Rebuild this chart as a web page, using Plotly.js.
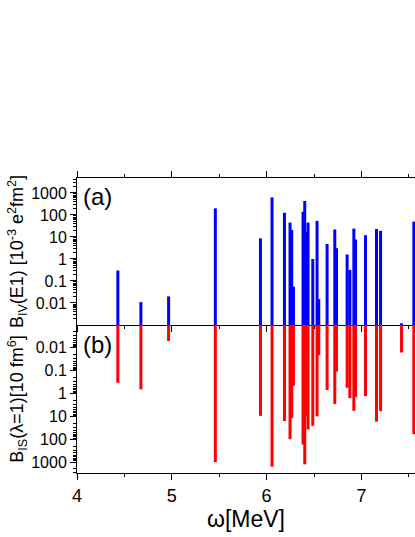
<!DOCTYPE html>
<html>
<head>
<meta charset="utf-8">
<script src="https://cdn.plot.ly/plotly-3.0.1.min.js"></script>
<style>
  html, body { margin: 0; padding: 0; background: #fff; }
  #plot { width: 415px; height: 537px; }
</style>
</head>
<body>
<div id="plot"></div>
<script>
// excitation energies (MeV) of the dipole states
const energies = [4.431, 4.674, 4.966, 5.459, 5.935, 6.057, 6.188, 6.247, 6.265, 6.283,
    6.384, 6.402, 6.420, 6.437, 6.487, 6.532, 6.550, 6.638, 6.719, 6.737,
    6.849, 6.878, 6.920, 6.938, 7.043, 7.159, 7.202, 7.423, 7.553];
// isovector E1 strength, 10^-3 e^2 fm^2
const bIV = [0.3, 0.011, 0.02, 200, 8.7, 630, 126, 45, 21, 0.055,
    140, 430, 17, 45, 1, 54, 0.015, 4.8, 22, 3.1,
    1.6, 0.32, 24, 7.7, 12, 23, 19, 0.0012, 50];
// isoscalar lambda=1 strength, 10 fm^6
const bIS = [0.34, 0.66, 0.005, 1000, 9.5, 1600, 16, 100, 12, 0.46,
    170, 1260, 10, 38, 26, 10, 0.021, 0.7, 2.9, 0.11,
    0.56, 1.6, 5.7, 1.4, 1.3, 17, 5.9, 0.016, 60];

const logTicks = [0.01, 0.1, 1, 10, 100, 1000];
const logTickText = ['0.01', '0.1', '1', '10', '100', '1000'];
const xTicks = [4, 5, 6, 7];
const base = 0.001; // bottom of the log axes

const font = 'Arial, "Liberation Sans", sans-serif';

function stems(xs, ys) {
    let x = [], y = [];
    xs.forEach((e, i) => {
        x.push(e, e, null);
        y.push(base, ys[i], null);
    });
    return { x: x, y: y };
}

function minorLogTicks() {
    let vals = [];
    for (let k = -3; k <= 3; k++) {
        for (let m = 2; m <= 9; m++) vals.push(m * Math.pow(10, k));
    }
    return vals;
}

const a = stems(energies, bIV);
const b = stems(energies, bIS);

const data = [
    { x: a.x, y: a.y, xaxis: 'x', yaxis: 'y', type: 'scatter', mode: 'lines',
      line: { color: '#0000ff', width: 3 }, hoverinfo: 'skip' },
    { x: b.x, y: b.y, xaxis: 'x2', yaxis: 'y2', type: 'scatter', mode: 'lines',
      line: { color: '#ff0000', width: 3 }, hoverinfo: 'skip' }
];

const xCommon = {
    range: [4, 7.565], showgrid: false, zeroline: false,
    showline: true, linecolor: '#000', linewidth: 1,
    ticks: 'outside', ticklen: 6, tickcolor: '#000', tickvals: xTicks,
    minor: { tickvals: [4.5, 5.5, 6.5, 7.5], ticks: 'outside', ticklen: 3, tickcolor: '#000', showgrid: false }
};

const yCommon = {
    type: 'log', showgrid: false, zeroline: false,
    showline: true, linecolor: '#000', linewidth: 1,
    ticks: 'outside', ticklen: 6, tickcolor: '#000',
    tickmode: 'array', tickvals: logTicks, ticktext: logTickText,
    tickfont: { size: 16, color: '#000' },
    minor: { tickmode: 'array', tickvals: minorLogTicks(), ticks: 'outside', ticklen: 3, tickcolor: '#000', showgrid: false }
};

const layout = {
    width: 415, height: 537,
    margin: { l: 77, r: 0, t: 178, b: 64 },
    showlegend: false,
    paper_bgcolor: '#fff', plot_bgcolor: '#fff',
    font: { family: font, color: '#000' },
    xaxis: Object.assign({}, xCommon, { anchor: 'y', mirror: 'ticks', showticklabels: false }),
    xaxis2: Object.assign({}, xCommon, {
        anchor: 'y2', matches: 'x',
        tickfont: { size: 18, color: '#000' },
        title: { text: 'ω[MeV]', font: { size: 23, color: '#000' }, standoff: 0 }
    }),
    yaxis: Object.assign({}, yCommon, {
        domain: [0.5017, 1], range: [-3, 3.68], anchor: 'x',
        title: { text: 'B<sub>IV</sub>(E1) [10<sup>-3</sup> e<sup>2</sup>fm<sup>2</sup>]', font: { size: 18, color: '#000' }, standoff: 2 }
    }),
    yaxis2: Object.assign({}, yCommon, {
        domain: [0, 0.5017], range: [3.48, -3], anchor: 'x2',
        title: { text: 'B<sub>IS</sub>(λ=1)[10 fm<sup>6</sup>]', font: { size: 18, color: '#000' }, standoff: 2 }
    }),
    annotations: [
        { text: '(a)', xref: 'paper', yref: 'paper', x: 0.012, y: 0.936, xanchor: 'left', yanchor: 'middle',
          showarrow: false, font: { size: 24, color: '#000' } },
        { text: '(b)', xref: 'paper', yref: 'paper', x: 0.012, y: 0.434, xanchor: 'left', yanchor: 'middle',
          showarrow: false, font: { size: 24, color: '#000' } }
    ]
};

Plotly.newPlot('plot', data, layout, { staticPlot: true, displayModeBar: false });
</script>
</body>
</html>
